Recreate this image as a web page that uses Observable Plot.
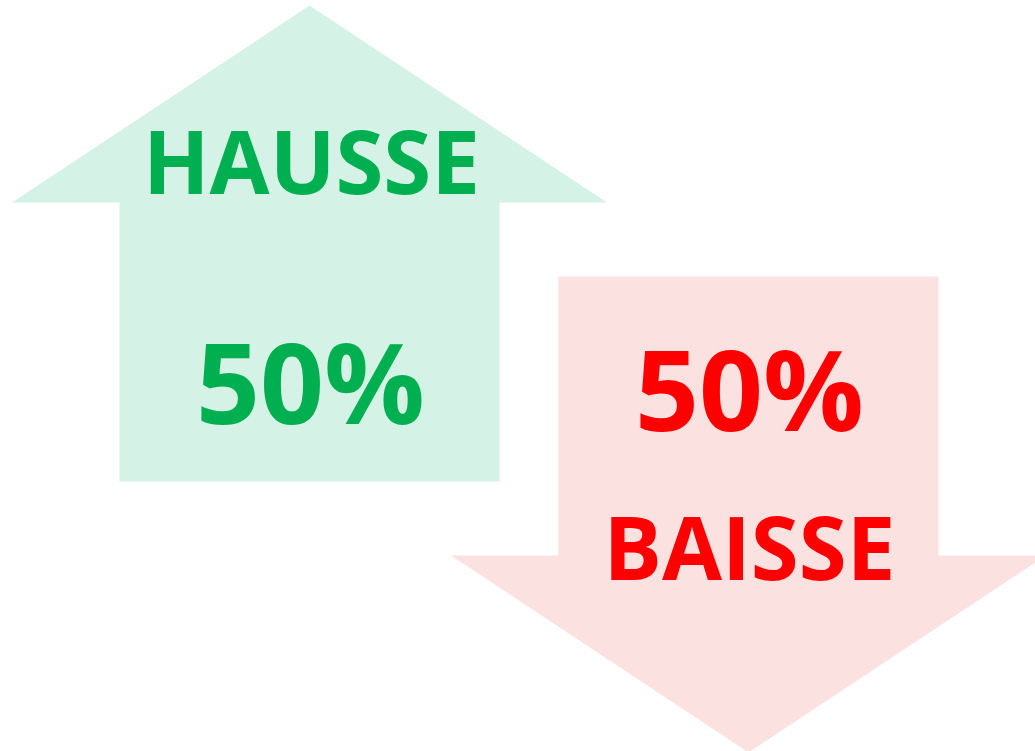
<!DOCTYPE html>
<html>
<head>
<meta charset="utf-8">
<script src="https://cdn.jsdelivr.net/npm/d3@7"></script>
<script src="https://cdn.jsdelivr.net/npm/@observablehq/plot@0.6"></script>
<style>
  html, body { margin: 0; padding: 0; background: #ffffff; }
  #chart svg { display: block; }
</style>
</head>
<body>
<div id="chart"></div>
<script>
// ---- data ----
const labels = ["HAUSSE", "BAISSE"];
const values = [50, 50];
const directions = ["up", "down"];
const textColors = ["#00B050", "#FF0000"];
const fillColors = ["#D4F2E6", "#FCE1E1"];

// ---- layout (pixel geometry of the arrows) ----
const W = 1035, H = 751;
const layout = {
  up:   {cx: 309, shaftTop: 202, shaftBottom: 481, tip: 5},
  down: {cx: 748, shaftTop: 276, shaftBottom: 555, tip: 752}
};
const headHalf = 297.5, shaftHalf = 190;

function arrowPolygon(dir) {
  const g = layout[dir];
  if (dir === "up") {
    return [
      [g.cx, g.tip], [g.cx + headHalf, g.shaftTop], [g.cx + shaftHalf, g.shaftTop],
      [g.cx + shaftHalf, g.shaftBottom], [g.cx - shaftHalf, g.shaftBottom],
      [g.cx - shaftHalf, g.shaftTop], [g.cx - headHalf, g.shaftTop], [g.cx, g.tip]
    ];
  }
  return [
    [g.cx - shaftHalf, g.shaftTop], [g.cx + shaftHalf, g.shaftTop], [g.cx + shaftHalf, g.shaftBottom],
    [g.cx + headHalf, g.shaftBottom], [g.cx, g.tip], [g.cx - headHalf, g.shaftBottom],
    [g.cx - shaftHalf, g.shaftBottom], [g.cx - shaftHalf, g.shaftTop]
  ];
}

const arrowMarks = directions.map((dir, i) =>
  Plot.line(arrowPolygon(dir).map(([x, y]) => ({x, y})), {
    x: "x", y: "y", fill: fillColors[i], stroke: "none", curve: "linear"
  })
);

// text rows
const labelRows = directions.map((dir, i) => ({
  text: labels[i],
  x: dir === "up" ? layout.up.cx + 2 : layout.down.cx + 1,
  y: dir === "up" ? 193 : 579,
  color: textColors[i]
}));
const valueRows = directions.map((dir, i) => ({
  text: `${values[i]}%`,
  x: dir === "up" ? layout.up.cx + 1 : layout.down.cx + 1,
  y: dir === "up" ? 423 : 430,
  color: textColors[i]
}));

const chart = Plot.plot({
  width: W,
  height: H,
  margin: 0,
  x: {domain: [0, W], axis: null},
  y: {domain: [0, H], reverse: true, axis: null},
  style: {background: "#ffffff"},
  marks: [
    ...arrowMarks,
    Plot.text(labelRows, {
      x: "x", y: "y", text: "text", fill: "color",
      fontSize: 87, fontWeight: "bold", fontFamily: "Open Sans",
      textAnchor: "middle", lineAnchor: "bottom"
    }),
    Plot.text(valueRows, {
      x: "x", y: "y", text: "text", fill: "color",
      fontSize: 112, fontWeight: "bold", fontFamily: "Open Sans",
      textAnchor: "middle", lineAnchor: "bottom"
    })
  ]
});
document.getElementById("chart").appendChild(chart);
</script>
</body>
</html>
